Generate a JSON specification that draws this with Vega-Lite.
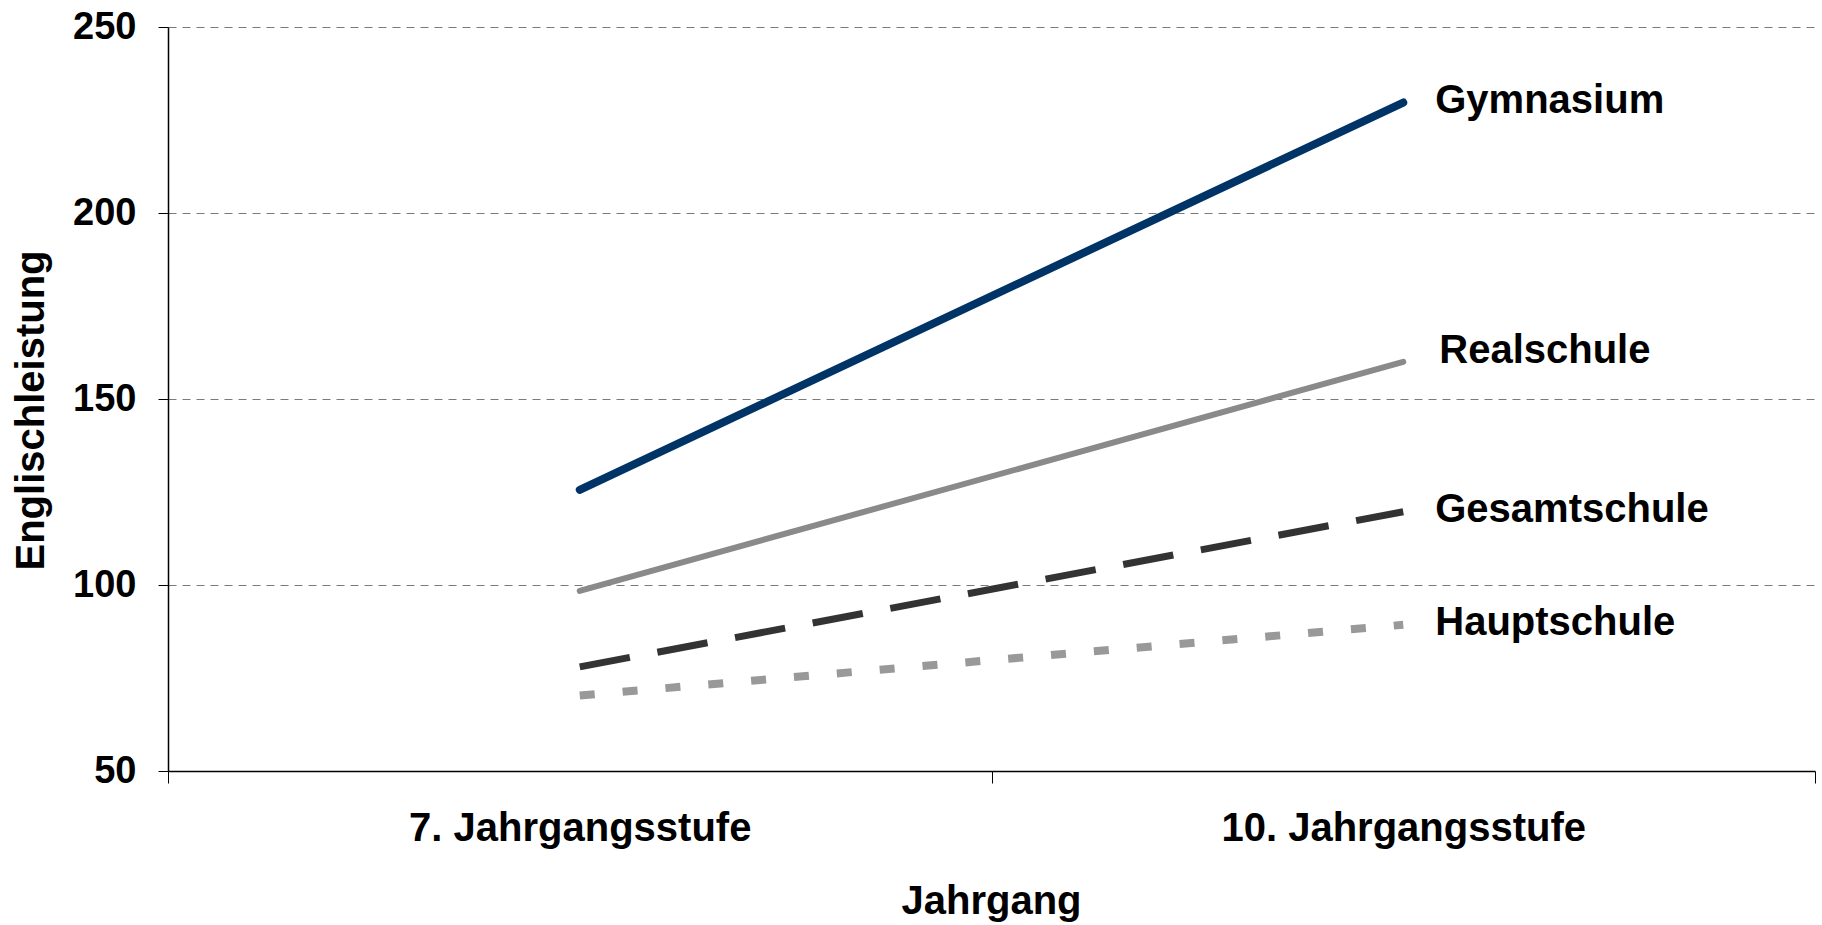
{
  "$schema": "https://vega.github.io/schema/vega-lite/v6.json",
  "width": 1647,
  "height": 744,
  "autosize": {"type": "none"},
  "padding": {"left": 168, "top": 27, "right": 7, "bottom": 154},
  "background": "white",
  "config": {"view": {"stroke": null}, "font": "Liberation Sans"},
  "data": {
    "values": [
      {"Schulform": "Gymnasium", "Jahrgang": "7. Jahrgangsstufe", "Englischleistung": 125.6},
      {"Schulform": "Gymnasium", "Jahrgang": "10. Jahrgangsstufe", "Englischleistung": 229.7},
      {"Schulform": "Realschule", "Jahrgang": "7. Jahrgangsstufe", "Englischleistung": 98.4},
      {"Schulform": "Realschule", "Jahrgang": "10. Jahrgangsstufe", "Englischleistung": 160.0},
      {"Schulform": "Gesamtschule", "Jahrgang": "7. Jahrgangsstufe", "Englischleistung": 78.0},
      {"Schulform": "Gesamtschule", "Jahrgang": "10. Jahrgangsstufe", "Englischleistung": 119.7},
      {"Schulform": "Hauptschule", "Jahrgang": "7. Jahrgangsstufe", "Englischleistung": 70.3},
      {"Schulform": "Hauptschule", "Jahrgang": "10. Jahrgangsstufe", "Englischleistung": 89.3}
    ]
  },
  "encoding": {
    "x": {
      "field": "Jahrgang",
      "type": "nominal",
      "sort": ["7. Jahrgangsstufe", "10. Jahrgangsstufe"],
      "scale": {"paddingInner": 0, "paddingOuter": 0},
      "axis": {
        "title": "Jahrgang",
        "labelAngle": 0,
        "labelLimit": 0,
        "tickBand": "extent",
        "grid": false,
        "domainColor": "black",
        "domainWidth": 1.5,
        "tickColor": "black",
        "tickWidth": 1,
        "tickSize": 12,
        "labelFont": "Liberation Sans",
        "labelFontSize": 40,
        "labelFontWeight": "bold",
        "labelColor": "black",
        "labelBaseline": "alphabetic",
        "labelPadding": 57,
        "titleFont": "Liberation Sans",
        "titleFontSize": 40,
        "titleFontWeight": "bold",
        "titleColor": "black",
        "titleBaseline": "alphabetic",
        "titleAlign": "center",
        "titleX": 823,
        "titleY": 142
      }
    },
    "y": {
      "field": "Englischleistung",
      "type": "quantitative",
      "scale": {"domain": [50, 250], "nice": false, "zero": false},
      "axis": {
        "title": "Englischleistung",
        "values": [50, 100, 150, 200, 250],
        "grid": true,
        "gridDash": [8, 6],
        "gridColor": "#7a7a7a",
        "gridWidth": 1,
        "gridOpacity": {"condition": {"test": "datum.value == 50", "value": 0}, "value": 1},
        "domainColor": "black",
        "domainWidth": 1.5,
        "tickColor": "black",
        "tickSize": 10,
        "labelFont": "Liberation Sans",
        "labelFontSize": 38,
        "labelFontWeight": "bold",
        "labelColor": "black",
        "labelPadding": 22,
        "titleFont": "Liberation Sans",
        "titleFontSize": 40,
        "titleFontWeight": "bold",
        "titleColor": "black",
        "titleAngle": -90,
        "titleAlign": "center",
        "titleBaseline": "alphabetic",
        "titleX": -125,
        "titleY": 383
      }
    }
  },
  "layer": [
    {
      "transform": [{"filter": "datum.Schulform == 'Hauptschule'"}],
      "mark": {"type": "line", "color": "#999999", "strokeWidth": 8, "strokeDash": [15, 28], "strokeCap": "butt"}
    },
    {
      "transform": [{"filter": "datum.Schulform == 'Gesamtschule'"}],
      "mark": {"type": "line", "color": "#333333", "strokeWidth": 7, "strokeDash": [51, 28], "strokeCap": "butt"}
    },
    {
      "transform": [{"filter": "datum.Schulform == 'Realschule'"}],
      "mark": {"type": "line", "color": "#8a8a8a", "strokeWidth": 6, "strokeCap": "round"}
    },
    {
      "transform": [{"filter": "datum.Schulform == 'Gymnasium'"}],
      "mark": {"type": "line", "color": "#003366", "strokeWidth": 8, "strokeCap": "round"}
    },
    {
      "transform": [{"filter": "datum.Jahrgang == '10. Jahrgangsstufe' && datum.Schulform != 'Realschule'"}],
      "mark": {"type": "text", "align": "left", "baseline": "middle", "dx": 32, "dy": -2, "font": "Liberation Sans", "fontSize": 40, "fontWeight": "bold", "color": "black"},
      "encoding": {"text": {"field": "Schulform"}}
    },
    {
      "transform": [{"filter": "datum.Jahrgang == '10. Jahrgangsstufe' && datum.Schulform == 'Realschule'"}],
      "mark": {"type": "text", "align": "left", "baseline": "middle", "dx": 36, "dy": -11, "font": "Liberation Sans", "fontSize": 40, "fontWeight": "bold", "color": "black"},
      "encoding": {"text": {"field": "Schulform"}}
    }
  ]
}
